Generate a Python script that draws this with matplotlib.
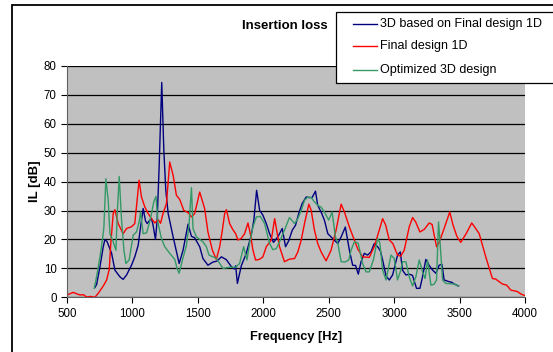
import matplotlib.pyplot as plt
from matplotlib.lines import Line2D
from matplotlib.patches import Rectangle

# --- data ---
f_1d = [500, 548, 575, 599, 625, 650, 680, 713, 739, 777, 803, 823, 833, 853, 866,
        891, 929, 955, 993, 1018, 1051, 1069, 1095, 1120, 1146, 1171, 1196, 1215,
        1234, 1260, 1285, 1311, 1336, 1362, 1375, 1392, 1425, 1451, 1476, 1514,
        1552, 1577, 1611, 1641, 1667, 1687, 1705, 1718, 1743, 1766, 1789, 1806,
        1830, 1857, 1883, 1901, 1921, 1941, 1970, 1997, 2023, 2061, 2087, 2124,
        2162, 2200, 2239, 2264, 2290, 2315, 2348, 2366, 2391, 2416, 2442, 2480,
        2518, 2556, 2595, 2620, 2658, 2696, 2722, 2759, 2810, 2848, 2882, 2912,
        2935, 2963, 2990, 3026, 3050, 3077, 3115, 3141, 3165, 3197, 3230, 3268,
        3290, 3306, 3324, 3344, 3382, 3425, 3450, 3480, 3509, 3550, 3593, 3620,
        3650, 3700, 3751, 3776, 3800, 3827, 3860, 3891, 3941, 3970, 4000]
il_1d = [0.8, 1.7, 1.2, 0.8, 0.9, 0.1, 0.3, 0.0, 1.4, 3.9, 6.0, 9.7, 17.5, 29.0, 30.3,
         25.5, 22.0, 23.8, 24.4, 25.5, 40.5, 34.7, 31.2, 29.0, 27.2, 25.7, 26.9, 25.6,
         29.0, 32.4, 46.8, 42.2, 35.3, 33.8, 32.2, 30.1, 29.3, 27.8, 29.0, 36.4,
         30.7, 22.6, 16.3, 13.1, 17.5, 23.2, 29.0, 30.3, 25.5, 23.5, 22.0, 19.8,
         20.3, 22.0, 25.7, 22.0, 16.3, 12.9, 13.1, 14.0, 17.5, 19.8, 27.2, 17.5,
         12.3, 13.2, 13.4, 15.7, 19.8, 25.5, 32.2, 30.1, 23.2, 18.6, 15.7, 12.6,
         16.3, 23.2, 32.2, 29.5, 24.3, 19.8, 16.7, 14.0, 13.8, 17.5, 22.6, 27.2,
         25.0, 19.8, 18.6, 14.6, 14.2, 16.3, 24.3, 27.6, 26.0, 22.6, 23.5, 25.7,
         25.2, 21.5, 17.5, 19.0, 23.8, 29.5, 25.0, 21.0, 19.0, 22.0, 25.7, 24.0,
         22.0, 14.0, 6.5, 6.3, 5.5, 4.6, 4.2, 2.5, 2.0, 1.1, 0.6]

f_3d = [713, 726, 752, 777, 790, 807, 841, 866, 904, 929, 955, 993, 1018, 1044,
        1062, 1082, 1100, 1113, 1128, 1146, 1158, 1176, 1189, 1204, 1224, 1240,
        1255, 1273, 1311, 1357, 1387, 1425, 1451, 1475, 1514, 1539, 1577, 1616,
        1645, 1680, 1718, 1756, 1780, 1789, 1802, 1832, 1870, 1908, 1928, 1949,
        1972, 1997, 2023, 2048, 2078, 2111, 2145, 2170, 2195, 2221, 2246, 2271,
        2297, 2328, 2350, 2373, 2399, 2416, 2442, 2467, 2493, 2531, 2569, 2595,
        2627, 2658, 2683, 2705, 2726, 2747, 2772, 2797, 2823, 2848, 2874, 2895,
        2912, 2938, 2963, 2988, 3026, 3047, 3064, 3090, 3115, 3140, 3171, 3197,
        3217, 3242, 3268, 3292, 3319, 3344, 3365, 3382, 3420, 3440, 3459, 3492]
il_3d = [3.4, 4.4, 10.6, 17.5, 20.0, 19.2, 15.2, 9.4, 7.1, 6.2, 7.7, 11.1, 14.0, 18.0,
         24.3, 30.7, 26.4, 25.5, 26.4, 27.2, 24.9, 20.0, 26.7, 45.0, 74.3, 50.8,
         37.0, 29.0, 20.9, 11.7, 16.3, 25.3, 21.1, 20.6, 17.5, 13.4, 11.1, 12.2,
         12.5, 14.0, 13.0, 10.6, 9.8, 10.9, 4.8, 10.9, 15.2, 21.5, 26.7, 37.0,
         30.1, 28.4, 25.5, 22.0, 19.0, 20.9, 23.8, 17.5, 19.6, 23.2, 24.9, 29.0,
         32.4, 34.7, 34.5, 34.5, 36.7, 31.8, 29.5, 26.7, 22.0, 20.3, 18.6, 20.9,
         24.3, 16.3, 11.1, 11.0, 8.0, 12.3, 15.2, 14.6, 15.7, 18.6, 17.5, 16.0,
         12.9, 7.4, 6.0, 7.7, 14.6, 15.7, 9.4, 7.7, 8.0, 7.6, 3.1, 3.1,
         7.1, 13.1, 11.0, 9.5, 8.3, 11.1, 11.4, 6.0, 5.4, 5.2, 4.6, 3.9]

f_opt = [708, 726, 752, 772, 782, 797, 815, 828, 853, 874, 884, 899, 917, 935, 950,
         975, 1006, 1031, 1051, 1062, 1082, 1108, 1128, 1146, 1163, 1180, 1196,
         1222, 1247, 1285, 1324, 1341, 1357, 1382, 1413, 1433, 1451, 1463, 1489,
         1539, 1565, 1585, 1616, 1641, 1692, 1743, 1790, 1819, 1850, 1875, 1895,
         1921, 1947, 1977, 2010, 2048, 2073, 2099, 2124, 2162, 2200, 2239, 2264,
         2290, 2315, 2340, 2366, 2391, 2416, 2442, 2467, 2500, 2526, 2551, 2569,
         2595, 2625, 2653, 2671, 2696, 2725, 2759, 2785, 2810, 2841, 2874, 2890,
         2912, 2938, 2976, 3000, 3026, 3051, 3064, 3090, 3115, 3141, 3166, 3192,
         3217, 3237, 3255, 3281, 3305, 3324, 3339, 3350, 3370, 3395, 3459, 3492]
il_opt = [3.1, 7.1, 14.0, 20.3, 24.3, 41.0, 33.5, 22.0, 19.2, 16.3, 29.0, 41.8, 26.7,
          16.3, 11.7, 12.9, 21.5, 22.6, 26.1, 29.5, 22.0, 22.3, 25.5, 29.0, 33.0,
          34.9, 25.5, 20.3, 17.5, 15.2, 13.1, 10.0, 8.3, 12.9, 18.0, 25.5, 37.9,
          23.8, 20.9, 19.2, 17.5, 14.6, 14.0, 13.5, 10.0, 10.4, 10.4, 11.7, 17.5,
          12.9, 18.6, 24.3, 27.8, 28.0, 25.5, 18.6, 16.5, 16.8, 19.2, 23.2, 27.6,
          25.5, 27.2, 30.1, 33.5, 34.7, 34.5, 33.0, 31.8, 31.2, 29.5, 26.7, 29.5,
          20.9, 18.8, 12.3, 12.2, 12.9, 16.3, 19.2, 18.8, 11.7, 8.8, 8.8, 12.9,
          20.3, 19.0, 9.4, 6.0, 14.6, 13.5, 6.0, 9.4, 12.3, 12.3, 7.1, 3.9, 7.1,
          12.9, 8.8, 6.5, 12.9, 4.2, 4.5, 6.0, 26.1, 19.6, 6.0, 4.8, 4.6, 3.9]

x_ticks = [500, 1000, 1500, 2000, 2500, 3000, 3500, 4000]
y_ticks = [0, 10, 20, 30, 40, 50, 60, 70, 80]

W, H = 553, 352
plt.rcParams["font.family"] = ["Liberation Sans", "DejaVu Sans"]
fig = plt.figure(figsize=(W / 100, H / 100), dpi=100)


def fx(px):
    return px / W


def fy(py):
    # pixel row (from top) to figure fraction
    return 1 - py / H


# chart area frame (runs off the right and bottom edges)
fig.patches.append(Rectangle((fx(12), -0.1), 1.2, fy(5) + 0.1,
                             transform=fig.transFigure, fill=False,
                             edgecolor="black", linewidth=1.3))

ax = fig.add_axes([fx(67), fy(297.3), fx(525) - fx(67), fy(66) - fy(297.3)])
ax.set_facecolor("#C0C0C0")
ax.plot(f_3d, il_3d, color="#000080", linewidth=1.0, label="3D based on Final design 1D")
ax.plot(f_1d, il_1d, color="#FF0000", linewidth=1.0, label="Final design 1D")
ax.plot(f_opt, il_opt, color="#339966", linewidth=1.0, label="Optimized 3D design")

ax.set_xlim(500, 4000)
ax.set_ylim(0, 80)
ax.set_xticks(x_ticks)
ax.set_yticks(y_ticks)
ax.tick_params(labelsize=8.3, length=4, width=0.8, direction="out", pad=3.5)
ax.grid(axis="y", color="black", linewidth=0.9)
ax.set_axisbelow(True)
for side in ["top", "right"]:
    ax.spines[side].set_visible(False)
for side in ["left", "bottom"]:
    ax.spines[side].set_color("#606060")

ax.set_xlabel("Frequency [Hz]", fontsize=9.2, fontweight="bold", labelpad=8)
ax.set_ylabel("IL [dB]", fontsize=9.5, fontweight="bold", labelpad=2)

fig.text(fx(328), fy(26), "Insertion loss", fontsize=9.5, fontweight="bold",
         ha="right", va="center")

# legend box, drawn by hand so it can run off the right edge like the original
fig.patches.append(Rectangle((fx(336), fy(83)), 1.0, fy(12) - fy(83),
                             transform=fig.transFigure, facecolor="white",
                             edgecolor="black", linewidth=0.9, zorder=5))
for line, row in zip(ax.get_lines(), [24, 46, 70]):
    fig.add_artist(Line2D([fx(353), fx(377)], [fy(row), fy(row)],
                          color=line.get_color(), linewidth=1.0, zorder=6))
    fig.text(fx(380), fy(row), line.get_label(), fontsize=9.0,
             ha="left", va="center", zorder=6)

fig.savefig("out.png", dpi=100)
